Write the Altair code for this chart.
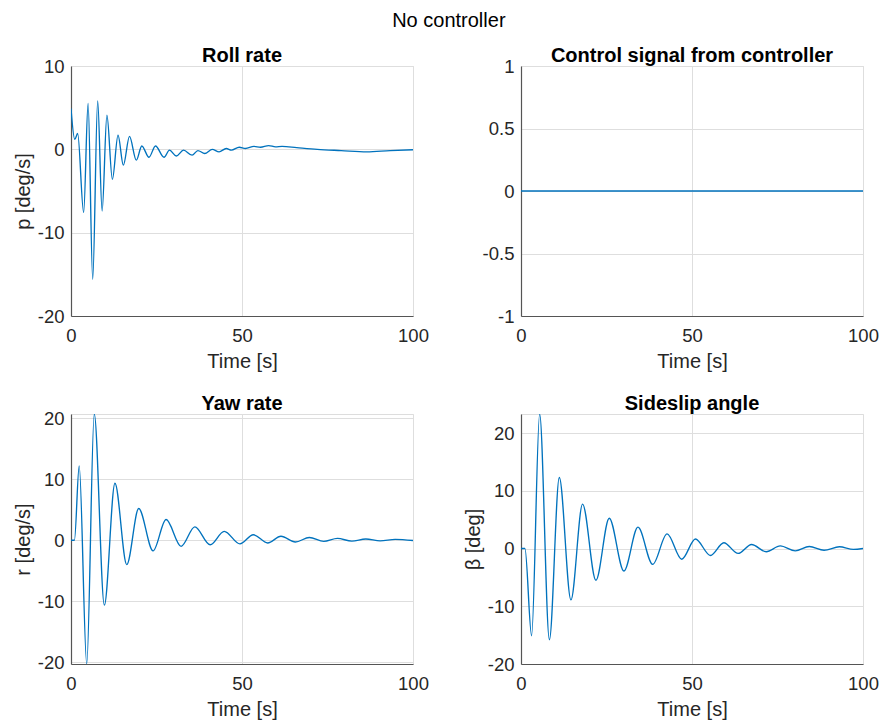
import altair as alt
import pandas as pd

# ---- data ----
roll_t = [0, 1.1, 1.95, 3.7, 5.0, 6.35, 7.8, 9.1, 10.5, 12.1, 13.75, 15.3, 17.1, 19.1,
          20.7, 22.8, 24.7, 27.2, 28.8, 30.8, 32.9, 35.4, 37.1, 39.1, 41.3, 43.3, 45.4,
          46.9, 49.2, 51.0, 53.5, 55.4, 57.8, 59.8, 61.7, 66, 72, 79, 86.5, 93.3, 100]
roll_p = [4.9, 1.2, 1.9, -7.6, 5.5, -15.6, 5.8, -7.4, 4.1, -3.6, 1.7, -1.9, 1.55, -1.3,
          0.4, -0.95, 0.4, -0.95, -0.1, -0.8, -0.1, -0.7, -0.15, -0.5, 0.0, -0.3, 0.1,
          -0.1, 0.25, 0.1, 0.35, 0.25, 0.45, 0.3, 0.35, 0.2, 0.0, -0.15, -0.3, -0.15, -0.05]

ctrl_t = [0, 100]
ctrl_u = [0, 0]

yaw_t = [0, 1.0, 2.4, 4.6, 6.8, 9.75, 12.85, 16.3, 19.8, 24.0, 27.8, 32.2, 36.2, 40.7,
         44.8, 49.4, 53.3, 57.5, 61.4, 65.6, 69.7, 73.9, 77.9, 82.1, 86.2, 90.4, 94.8, 100]
yaw_r = [0, 0, 12.2, -20.3, 20.7, -10.65, 9.35, -4.0, 5.2, -1.75, 3.4, -1.0, 2.2, -0.75,
         1.45, -0.6, 0.9, -0.45, 0.65, -0.3, 0.45, -0.2, 0.3, -0.15, 0.2, -0.1, 0.15, -0.05]

beta_t = [0, 1.15, 3.1, 5.45, 8.3, 11.2, 14.6, 18.0, 21.9, 25.8, 30.1, 34.2, 38.5, 42.7,
          47.0, 51.0, 55.4, 59.3, 63.5, 67.4, 71.7, 75.8, 80.2, 84.3, 88.6, 93.1, 97.2, 100]
beta_b = [0, 0, -15.1, 23.3, -15.8, 12.3, -8.9, 7.7, -5.5, 5.25, -3.9, 3.7, -2.75, 2.55,
          -1.85, 1.65, -1.2, 1.0, -0.85, 0.7, -0.55, 0.45, -0.4, 0.35, -0.3, 0.3, -0.15, 0.0]

x_ticks = [0, 50, 100]
roll_ticks = [-20, -10, 0, 10]
ctrl_ticks = [-1, -0.5, 0, 0.5, 1]
yaw_ticks = [-20, -10, 0, 10, 20]
beta_ticks = [-20, -10, 0, 10, 20]

FONT = "Liberation Sans"
LINE = "#0072BD"
TXT = "#262626"
W, H = 342, 250
LABEL_FS = 18.5


def axis(values, title, orient):
    common = dict(
        values=values,
        grid=True,
        gridColor="#dedede",
        gridWidth=1,
        domainColor="#555555",
        domainWidth=1.2,
        ticks=False,
        labelFont=FONT,
        labelFontSize=LABEL_FS,
        labelColor=TXT,
        labelExpr="'' + datum.value",
        titleFont=FONT,
        titleFontSize=20,
        titleFontWeight="normal",
        titleColor=TXT,
        labelFlush=False,
    )
    if orient == "x":
        common.update(labelPadding=10.5, titlePadding=6.5)
    else:
        common.update(labelPadding=7, titlePadding=4)
    if title is not None:
        common["title"] = title
    return alt.Axis(**common)


def panel(t, v, title, ytitle, ydomain, yticks):
    df = pd.DataFrame({"t": t, "v": v})
    yax = axis(yticks, ytitle, "y")
    if ytitle is None:
        y = alt.Y("v:Q", scale=alt.Scale(domain=ydomain, nice=False, zero=False),
                  axis=yax, title=None)
    else:
        y = alt.Y("v:Q", scale=alt.Scale(domain=ydomain, nice=False, zero=False), axis=yax)
    # how far the top tick label sticks out above the plot (title is placed above it)
    dist = (ydomain[1] - max(yticks)) / (ydomain[1] - ydomain[0]) * H
    overflow = max(0.0, LABEL_FS / 2 - dist)
    return (
        alt.Chart(df)
        .mark_line(color=LINE, strokeWidth=1.35, interpolate="monotone", clip=True)
        .encode(
            x=alt.X("t:Q", scale=alt.Scale(domain=[0, 100], nice=False),
                    axis=axis(x_ticks, "Time [s]", "x")),
            y=y,
        )
        .properties(
            width=W,
            height=H,
            title=alt.TitleParams(title, font=FONT, fontSize=20, fontWeight="bold",
                                  color="black", anchor="middle", offset=0,
                                  dy=round(overflow, 2)),
        )
    )


a = panel(roll_t, roll_p, "Roll rate", "p [deg/s]", [-20, 10], roll_ticks)
b = panel(ctrl_t, ctrl_u, "Control signal from controller", None, [-1, 1], ctrl_ticks)
c = panel(yaw_t, yaw_r, "Yaw rate", "r [deg/s]", [-20.3, 20.7], yaw_ticks)
d = panel(beta_t, beta_b, "Sideslip angle", "β [deg]", [-20, 23.3], beta_ticks)

chart = (
    alt.concat(a, b, c, d, columns=2, spacing={"row": 98, "column": 108}, bounds="flush")
    .properties(
        title=alt.TitleParams("No controller", font=FONT, fontSize=20, fontWeight="normal",
                              color="black", anchor="middle", offset=14.5, dx=3),
        autosize=alt.AutoSizeParams(type="none"),
        padding={"left": 71, "top": 66, "right": 811, "bottom": 660},
    )
    .configure_view(stroke=None)
    .configure(background="white")
)

chart.save("out.html", embed_options={"renderer": "svg", "actions": False})
